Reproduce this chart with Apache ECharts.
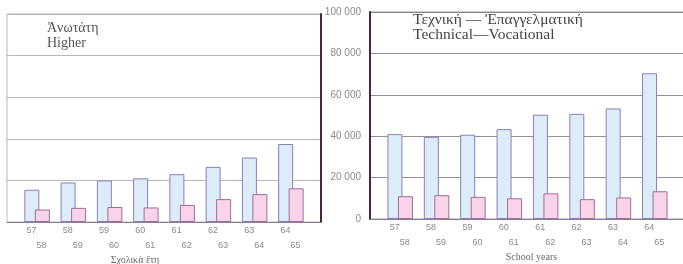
<!DOCTYPE html>
<html>
<head>
<meta charset="utf-8">
<script src="https://cdn.jsdelivr.net/npm/echarts@6/dist/echarts.min.js"></script>
<style>
  html, body { margin: 0; padding: 0; background: #fff; }
  #chart { width: 683px; height: 264px; }
</style>
</head>
<body>
<div id="chart"></div>
<script>
// school years, e.g. 57/58
const yearsFrom = ["57", "58", "59", "60", "61", "62", "63", "64"];
const yearsTo = ["58", "59", "60", "61", "62", "63", "64", "65"];

// higher education
const higherBlue = [15500, 19000, 20000, 21000, 23000, 26500, 31000, 37500];
const higherPink = [6000, 6800, 7200, 7000, 8200, 11000, 13400, 16200];

// technical / vocational
const techBlue = [41000, 39700, 40700, 43400, 50400, 50800, 53400, 70400];
const techPink = [11000, 11500, 10700, 10000, 12400, 9600, 10400, 13400];

const serif = "'Liberation Serif', 'DejaVu Serif', serif";
const blueStyle = { color: "#dcedf9", borderColor: "#8b7fb5", borderWidth: 1 };
const pinkStyle = { color: "#f8d3ea", borderColor: "#9d6f95", borderWidth: 1 };

const toPairs = (arr) => arr.map((v, i) => [i, v]);
const positions = yearsFrom.map((_, i) => i);

function xAxisFor(gridIndex, name, namePad) {
  return {
    type: "value",
    gridIndex: gridIndex,
    min: -0.83,
    max: 7.83,
    splitLine: { show: false },
    axisTick: { show: false },
    axisLine: { show: true, onZero: false, lineStyle: { color: "#8a7a98", width: 1 } },
    axisLabel: {
      customValues: positions,
      margin: 3,
      formatter: (v) => {
        const i = Math.round(v);
        return "{a|" + yearsFrom[i] + "}\n{b|" + yearsTo[i] + "}";
      },
      rich: {
        a: { fontSize: 9, color: "#8a8a8a", lineHeight: 12, padding: [0, 11, 0, 0] },
        b: { fontSize: 9, color: "#8a8a8a", lineHeight: 17, padding: [0, 0, 0, 9] },
      },
    },
    name: name,
    nameLocation: "middle",
    nameGap: 30,
    nameTextStyle: { fontFamily: serif, fontSize: 10, color: "#666", padding: namePad },
  };
}

function yAxisFor(gridIndex, position, showLabels, gridColor) {
  return {
    type: "value",
    gridIndex: gridIndex,
    position: position,
    min: 0,
    max: 100000,
    interval: 20000,
    axisLine: { show: true, onZero: false, lineStyle: { color: "#4a2444", width: 2 } },
    axisTick: { show: false },
    splitLine: { show: true, lineStyle: { color: gridColor, width: 0.8 } },
    axisLabel: {
      show: showLabels,
      margin: 9,
      fontSize: 10,
      color: "#8a8a8a",
      formatter: (v) => (v === 0 ? "0" : String(v).replace(/(\d)(?=(\d{3})+$)/g, "$1 ")),
    },
  };
}

const chart = echarts.init(document.getElementById("chart"), null, { renderer: "canvas" });

const option = {
  backgroundColor: "#ffffff",
  animation: false,
  title: [
    {
      text: "Ἀνωτάτη\nHigher",
      left: 47,
      top: 21,
      padding: 0,
      textStyle: { fontFamily: serif, fontSize: 14, fontWeight: "normal", color: "#555", lineHeight: 15 },
    },
    {
      text: "Τεχνική — Ἐπαγγελματική\nTechnical—Vocational",
      left: 413,
      top: 12,
      padding: 0,
      textStyle: { fontFamily: serif, fontSize: 15.5, fontWeight: "normal", color: "#444", lineHeight: 15 },
    },
  ],
  grid: [
    { left: 7, top: 14, width: 314, height: 208, show: true, borderColor: "#bbb", borderWidth: 1, outerBoundsMode: "none" },
    { left: 370, top: 12, width: 315, height: 207, show: true, borderColor: "#999", borderWidth: 1, outerBoundsMode: "none" },
  ],
  xAxis: [
    xAxisFor(0, "Σχολικὰ ἔτη", [0, 58, 0, 0]),
    xAxisFor(1, "School years", [0, 0, 0, 8]),
  ],
  yAxis: [
    yAxisFor(0, "right", false, "#aaa2b2"),
    yAxisFor(1, "left", true, "#7a7080"),
  ],
  series: [
    {
      type: "bar", xAxisIndex: 0, yAxisIndex: 0,
      barWidth: 15, barGap: "-30%",
      itemStyle: blueStyle, data: toPairs(higherBlue),
    },
    {
      type: "bar", xAxisIndex: 0, yAxisIndex: 0,
      barWidth: 15, barGap: "-30%",
      itemStyle: pinkStyle, data: toPairs(higherPink),
    },
    {
      type: "bar", xAxisIndex: 1, yAxisIndex: 1,
      barWidth: 15, barGap: "-30%",
      itemStyle: blueStyle, data: toPairs(techBlue),
    },
    {
      type: "bar", xAxisIndex: 1, yAxisIndex: 1,
      barWidth: 15, barGap: "-30%",
      itemStyle: pinkStyle, data: toPairs(techPink),
    },
  ],
};

chart.setOption(option);
</script>
</body>
</html>
